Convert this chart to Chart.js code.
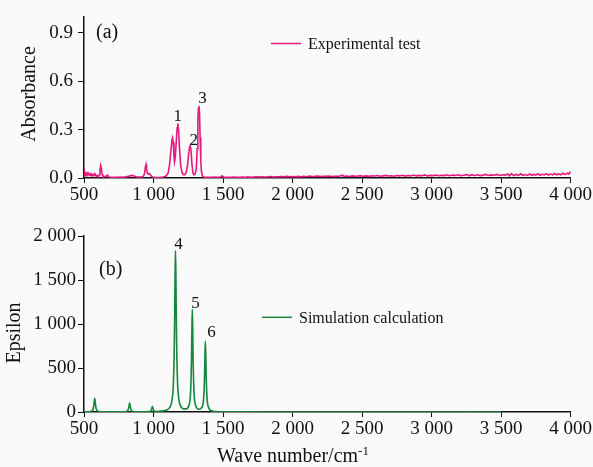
<!DOCTYPE html>
<html>
<head>
<meta charset="utf-8">
<script src="https://cdn.jsdelivr.net/npm/chart.js@4/dist/chart.umd.min.js"></script>
<style>
html,body{margin:0;padding:0;background:#fafafa;width:593px;height:467px;overflow:hidden;}
canvas{position:absolute;left:0;}
#c1{top:0;}
#c2{top:205px;}
</style>
</head>
<body>
<canvas id="c1" width="593" height="205"></canvas>
<canvas id="c2" width="593" height="262"></canvas>
<script>
// ---------- tick values ----------
const xTickValues = [500, 1000, 1500, 2000, 2500, 3000, 3500, 4000];
const absTickValues = [0, 0.3, 0.6, 0.9];
const epsTickValues = [0, 500, 1000, 1500, 2000];

// ---------- (a) experimental test ----------
const expWavenumber = [
  500,505,510,515,520,525,530,535,540,545,
  550,555,560,565,570,575,580,585,590,595,
  600,605,610,615,620,625,630,635,640,650,
  660,670,675,680,690,700,720,740,760,780,
  800,820,835,847,860,875,890,910,925,935,
  942,946,950,955,962,970,978,985,995,1010,
  1030,1050,1070,1090,1105,1115,1125,1132,1137,1142,
  1147,1151,1157,1163,1170,1175,1180,1187,1195,1205,
  1215,1225,1235,1245,1253,1259,1264,1270,1277,1284,
  1292,1300,1308,1314,1319,1323,1327,1331,1335,1340,
  1345,1352,1360,1380,1400,1420,1440,1460,1480,1495,
  1505,1520,1540,1560,1580,1600,1620,1640,1660,1680,
  1700,1720,1740,1760,1780,1800,1820,1840,1860,1880,
  1900,1920,1940,1960,1980,2000,2020,2040,2060,2080,
  2100,2120,2140,2160,2180,2200,2220,2240,2260,2280,
  2300,2320,2340,2360,2370,2390,2410,2430,2450,2470,
  2490,2510,2530,2550,2570,2590,2610,2630,2650,2670,
  2690,2710,2730,2750,2770,2790,2810,2830,2850,2870,
  2890,2910,2930,2950,2970,2990,3010,3030,3050,3070,
  3090,3110,3130,3150,3170,3190,3210,3230,3250,3270,
  3290,3310,3330,3350,3370,3390,3410,3430,3450,3470,
  3490,3510,3530,3550,3560,3575,3590,3610,3625,3640,
  3655,3670,3690,3705,3720,3735,3750,3765,3780,3795,
  3810,3825,3840,3855,3870,3885,3900,3915,3930,3945,
  3960,3975,3985,3995,4000
];
const expAbsorbance = [
  0.02,0.035,0.018,0.028,0.022,0.03,0.02,0.025,0.018,0.026,
  0.02,0.024,0.016,0.022,0.02,0.025,0.014,0.018,0.012,0.015,
  0.01,0.012,0.02,0.05,0.078,0.06,0.025,0.012,0.01,0.008,
  0.012,0.018,0.01,0.006,0.005,0.004,0.005,0.004,0.006,0.005,
  0.007,0.01,0.014,0.016,0.012,0.008,0.006,0.006,0.008,0.025,
  0.07,0.084,0.06,0.03,0.025,0.028,0.02,0.01,0.006,0.004,
  0.003,0.004,0.006,0.012,0.03,0.08,0.17,0.23,0.248,0.22,
  0.14,0.10,0.13,0.22,0.31,0.338,0.30,0.18,0.08,0.035,
  0.02,0.02,0.035,0.08,0.15,0.19,0.20,0.17,0.08,0.03,
  0.02,0.025,0.06,0.18,0.36,0.43,0.445,0.40,0.25,0.10,
  0.04,0.012,0.006,0.004,0.005,0.004,0.006,0.005,0.006,0.012,
  0.005,0.004,0.005,0.004,0.006,0.005,0.004,0.006,0.005,0.007,
  0.005,0.006,0.007,0.006,0.008,0.006,0.007,0.009,0.006,0.008,
  0.007,0.009,0.007,0.01,0.008,0.009,0.007,0.01,0.008,0.011,
  0.008,0.012,0.009,0.01,0.012,0.009,0.011,0.01,0.012,0.009,
  0.011,0.01,0.012,0.017,0.01,0.012,0.009,0.013,0.01,0.012,
  0.014,0.011,0.013,0.01,0.014,0.012,0.015,0.011,0.013,0.016,
  0.012,0.014,0.011,0.015,0.013,0.017,0.012,0.015,0.013,0.018,
  0.013,0.016,0.014,0.019,0.013,0.016,0.015,0.018,0.014,0.017,
  0.015,0.02,0.014,0.018,0.016,0.02,0.015,0.017,0.021,0.015,
  0.019,0.016,0.02,0.015,0.018,0.022,0.016,0.019,0.017,0.022,
  0.016,0.02,0.018,0.025,0.014,0.027,0.015,0.022,0.016,0.026,
  0.017,0.021,0.016,0.025,0.017,0.022,0.018,0.026,0.017,0.023,
  0.019,0.027,0.018,0.024,0.019,0.028,0.02,0.025,0.019,0.029,
  0.021,0.03,0.024,0.036,0.025
];
const peakLabelsA = ['1', '2', '3'];
const peakWaveA = [1175, 1264, 1327];
const peakAbsA = [0.338, 0.20, 0.445];

// ---------- (b) simulation calculation ----------
const simWavenumber = [
  500,530,553,565,571,574,577,580,583,589,
  601,627,700,778,804,816,822,825,828,831,
  834,840,852,900,942,968,980,986,989,992,
  995,998,1004,1016,1040,1068,1098,1118,1133,1144,
  1151,1155,1158,1161,1165,1172,1183,1198,1218,1234,
  1254,1267,1273,1276,1279,1282,1285,1291,1304,1326,
  1348,1361,1367,1370,1373,1376,1379,1385,1398,1418,
  1453,1500,1600,1800,2000,2500,3000,3240,3250,3255,
  3260,3270,3500
];
const simEpsilon = [
  1,2,9,31,79,126,157,126,79,31,
  9,2,1.5,2,6,21,52,82,103,82,
  52,21,6,2.5,3,5,12,31,49,61,
  49,31,12,6,7,13,26,56,136,370,
  920,1550,1834,1552,922,372,141,62,35,35,
  71,238,587,936,1167,936,586,237,70,32,
  53,166,404,644,804,643,402,161,44,14,
  5,2,1,0.6,0.5,0.4,0.3,0.5,3,6,
  3,0.5,0.3
];
const peakLabelsB = ['4', '5', '6'];
const peakWaveB = [1158, 1279, 1373];
const peakEpsB = [1834, 1167, 804];

// ---------- helpers ----------
const FONT = '"Liberation Serif", "Times New Roman", serif';
const INK = '#111';
const spaced = v => String(Math.round(v)).replace(/\B(?=(\d{3})+(?!\d))/g, ' ');
function pts(xs, ys) {
  const n = Math.min(xs.length, ys.length), out = [];
  for (let i = 0; i < n; i++) out.push({x: xs[i], y: ys[i]});
  return out;
}

const overlay = {
  id: 'overlay',
  afterDraw(chart, args, o) {
    const ctx = chart.ctx, xs = chart.scales.x, ys = chart.scales.y;
    ctx.save();
    ctx.fillStyle = INK;
    // y axis title
    ctx.save();
    ctx.translate(o.yTitleX, o.yTitleY);
    ctx.rotate(-Math.PI / 2);
    ctx.font = '20px ' + FONT;
    ctx.textAlign = 'center';
    ctx.textBaseline = 'middle';
    ctx.fillText(o.yTitle, 0, 0);
    ctx.restore();
    // x axis title
    if (o.xTitle) {
      ctx.font = '20px ' + FONT;
      ctx.textAlign = 'left';
      ctx.textBaseline = 'alphabetic';
      const w = ctx.measureText(o.xTitle).width;
      ctx.fillText(o.xTitle, o.xTitleX, o.xTitleY);
      ctx.font = '13px ' + FONT;
      ctx.fillText(o.xSup, o.xTitleX + w, o.xTitleY - 7);
    }
    // panel label
    ctx.font = '20px ' + FONT;
    ctx.textAlign = 'left';
    ctx.textBaseline = 'middle';
    ctx.fillText(o.panel, o.panelX, o.panelY);
    // legend
    ctx.strokeStyle = o.color;
    ctx.lineWidth = 1.5;
    ctx.beginPath();
    ctx.moveTo(o.legX, o.legY);
    ctx.lineTo(o.legX + 30, o.legY);
    ctx.stroke();
    ctx.font = '16px ' + FONT;
    ctx.fillText(o.legText, o.legX + 37, o.legY + 1);
    // peak labels
    ctx.font = '17px ' + FONT;
    ctx.textAlign = 'center';
    ctx.textBaseline = 'alphabetic';
    for (let i = 0; i < o.peakLabels.length; i++) {
      ctx.fillText(o.peakLabels[i],
        xs.getPixelForValue(o.peakX[i]) + o.peakDx[i],
        ys.getPixelForValue(o.peakY[i]) - o.peakDy[i]);
    }
    ctx.restore();
  }
};

function build(id, cfg) {
  const gridCommon = {display: true, drawOnChartArea: false, drawTicks: true, color: INK, lineWidth: 1};
  return new Chart(document.getElementById(id), {
    type: 'scatter',
    data: {datasets: [{
      data: pts(cfg.xs, cfg.ys),
      showLine: true,
      borderColor: cfg.color,
      backgroundColor: cfg.color,
      borderWidth: 1.6,
      pointRadius: 0,
      pointHoverRadius: 0,
      fill: false,
      tension: 0,
      cubicInterpolationMode: cfg.smooth ? 'monotone' : 'default'
    }]},
    options: {
      responsive: false,
      animation: false,
      devicePixelRatio: 1,
      events: [],
      layout: {padding: {top: cfg.padTop, right: 21, bottom: 0, left: 0}},
      plugins: {legend: {display: false}, tooltip: {enabled: false}, overlay: cfg.overlay},
      scales: {
        x: {
          type: 'linear', min: 500, max: 4000,
          afterBuildTicks: s => { s.ticks = xTickValues.map(v => ({value: v})); },
          afterFit: s => { s.height = cfg.xH; },
          ticks: {color: INK, font: {family: FONT, size: 19}, padding: 1, maxRotation: 0, autoSkip: false,
                  callback: v => spaced(v)},
          grid: Object.assign({tickLength: 5}, gridCommon),
          border: {display: true, color: INK, width: 1.5}
        },
        y: {
          type: 'linear', min: 0, max: cfg.yMax,
          afterBuildTicks: s => { s.ticks = cfg.yTicks.map(v => ({value: v})); },
          afterFit: s => { s.width = 84; },
          ticks: {color: INK, font: {family: FONT, size: 19}, padding: cfg.yPad, autoSkip: false,
                  callback: cfg.yFmt},
          grid: Object.assign({tickLength: 6}, gridCommon),
          border: {display: true, color: INK, width: 1.5}
        }
      }
    },
    plugins: [overlay]
  });
}

build('c1', {
  xs: expWavenumber, ys: expAbsorbance, color: '#e6197c', smooth: false,
  padTop: 10, xH: 27, yMax: 1.0, yTicks: absTickValues, yPad: 5,
  yFmt: v => Number(v).toFixed(1),
  overlay: {
    yTitle: 'Absorbance', yTitleX: 30, yTitleY: 94,
    panel: '(a)', panelX: 96, panelY: 33,
    color: '#e6197c', legX: 271, legY: 43.5, legText: 'Experimental test',
    peakLabels: peakLabelsA, peakX: peakWaveA, peakY: peakAbsA,
    peakDx: [0, 3.5, 3.5], peakDy: [2, 1, 3]
  }
});

build('c2', {
  xs: simWavenumber, ys: simEpsilon, color: '#14873c', smooth: true,
  padTop: 31, xH: 55, yMax: 2000, yTicks: epsTickValues, yPad: 2,
  yFmt: v => spaced(v),
  overlay: {
    yTitle: 'Epsilon', yTitleX: 15, yTitleY: 128,
    xTitle: 'Wave number/cm', xSup: '-1', xTitleX: 217, xTitleY: 257,
    panel: '(b)', panelX: 99, panelY: 64.5,
    color: '#14873c', legX: 262, legY: 112.3, legText: 'Simulation calculation',
    peakLabels: peakLabelsB, peakX: peakWaveB, peakY: peakEpsB,
    peakDx: [3, 3.3, 6], peakDy: [2, 1, 4]
  }
});
</script>
</body>
</html>
